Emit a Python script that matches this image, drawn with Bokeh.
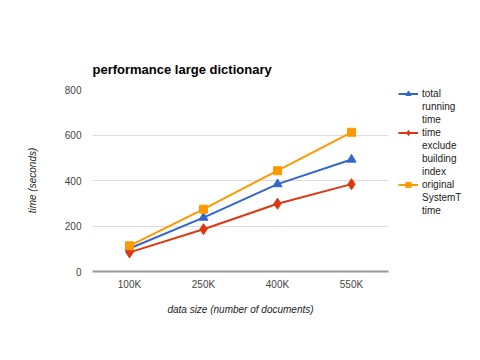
from bokeh.plotting import figure
from bokeh.models import Legend, LegendItem, FactorRange, Range1d
from bokeh.embed import file_html
from bokeh.resources import INLINE

categories = ["100K", "250K", "400K", "550K"]
total_running = [101, 237, 384, 492]
exclude_index = [84, 186, 298, 384]
original_system = [113, 274, 443, 612]
series_names = [["total", "running", "time"],
                ["time", "exclude", "building", "index"],
                ["original", "SystemT", "time"]]
colors = ["#3366CC", "#DC3912", "#FF9900"]
markers = ["triangle", "diamond", "square"]
marker_sizes = [9, 11, 8]
y_ticks = [0, 200, 400, 600, 800]

FONT = "Liberation Sans"

p = figure(width=480, height=360, output_backend="svg", toolbar_location=None,
           x_range=FactorRange(*categories), y_range=Range1d(0, 800),
           min_border_left=92, min_border_top=89, min_border_bottom=89, min_border_right=92)
p.frame_width = 296
p.frame_height = 182

items = []
for vals, name_lines, c, m, s in zip([total_running, exclude_index, original_system],
                                     series_names, colors, markers, marker_sizes):
    rl = p.line(categories, vals, color=c, line_width=2)
    rm = p.scatter(categories, vals, marker=m, size=s, color=c)
    items.append(LegendItem(label=name_lines[0], renderers=[rl, rm]))
    for extra in name_lines[1:]:
        dummy = p.scatter(x=[], y=[], marker="square", size=1, alpha=0)
        items.append(LegendItem(label=extra, renderers=[dummy]))

legend = Legend(items=items, location=(10, 54))
legend.border_line_color = None
legend.background_fill_alpha = 0
legend.label_text_font = FONT
legend.label_text_font_size = "10px"
legend.label_text_color = "#222222"
legend.glyph_width = 20
legend.glyph_height = 13
legend.label_height = 13
legend.spacing = 0
legend.padding = 0
legend.margin = 0
legend.label_standoff = 4
p.add_layout(legend, "right")

p.title.text = "performance large dictionary"
p.title.text_font = FONT
p.title.text_font_size = "13px"
p.title.text_font_style = "bold"
p.title.text_color = "#000000"
p.title.standoff = 25

p.xgrid.grid_line_color = None
p.ygrid.grid_line_color = "#dddddd"
p.yaxis.ticker = y_ticks
p.yaxis.axis_line_color = None
p.yaxis.major_tick_line_color = None
p.yaxis.minor_tick_line_color = None
p.xaxis.major_tick_line_color = None
p.xaxis.axis_line_color = "#999999"
p.xaxis.axis_line_width = 2
for ax in (p.xaxis, p.yaxis):
    ax.major_label_text_font = FONT
    ax.major_label_text_font_size = "10px"
    ax.major_label_text_color = "#444444"
    ax.axis_label_text_font = FONT
    ax.axis_label_text_font_size = "10px"
    ax.axis_label_text_font_style = "italic"
    ax.axis_label_text_color = "#222222"
p.xaxis.axis_label = "data size (number of documents)"
p.yaxis.axis_label = "time (seconds)"
p.xaxis.major_label_standoff = 1
p.xaxis.axis_label_standoff = 11
p.yaxis.major_label_standoff = 5
p.yaxis.axis_label_standoff = 24
p.outline_line_color = None

open("out.html", "w").write(file_html(p, INLINE))
